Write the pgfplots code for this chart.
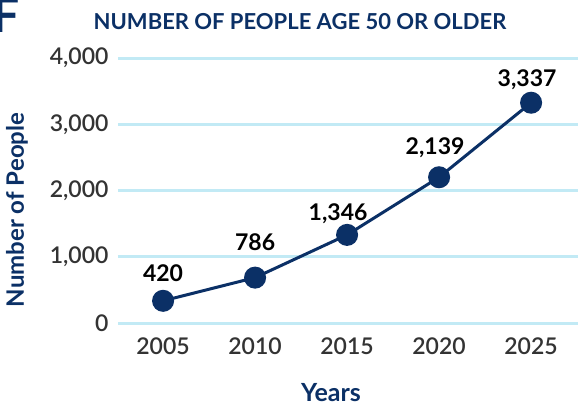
\documentclass[border=0pt]{standalone}
\usepackage{pgfplots}
\pgfplotsset{compat=1.18}
\usepackage{fontspec}
\setmainfont{Lato}
\newfontfamily\latomed{Lato Semibold}
\definecolor{navy}{HTML}{0B3066}
\definecolor{gridblue}{HTML}{C2EAF5}
\definecolor{tickgray}{HTML}{333333}

\begin{document}
\begin{tikzpicture}[x=1pt,y=1pt]
\path[use as bounding box] (-118,-82) rectangle (460,323);
\begin{axis}[
    at={(0,0)}, anchor=south west,
    scale only axis,
    width=460pt, height=265pt,
    xmin=2002.55, xmax=2027.55,
    ymin=0, ymax=4000,
    xtick={2005,2010,2015,2020,2025},
    xticklabels={2005,2010,2015,2020,2025},
    ytick={0,1000,2000,3000,4000},
    ymajorgrids,
    major grid style={color=gridblue, line width=3pt},
    axis line style={draw=none},
    major tick length=0pt,
    /pgf/number format/1000 sep={,},
    /pgf/number format/assume math mode=true,
    tick label style={font=\latomed\fontsize{23}{26}\selectfont, text=tickgray},
    xticklabel style={yshift=-11pt},
    yticklabel style={xshift=-6pt},
    clip=false,
]
% label offsets (dx, dy) follow the reference's placement
\addplot[color=navy, line width=3pt, mark=*, mark size=9.5pt,
    mark options={fill=navy, draw=navy},
    point meta=explicit symbolic,
    visualization depends on={value \thisrow{dx} \as \dx},
    visualization depends on={value \thisrow{dy} \as \dy},
    nodes near coords={\pgfplotspointmeta},
    every node near coord/.append style={font=\bfseries\fontsize{23}{26}\selectfont,
        text=black, anchor=south, xshift=\dx pt, yshift=\dy pt}]
  table[meta=label] {
    x     y     label  dx  dy
    2005  335   420    0   14
    2010  685   786    0   22
    2015  1330  1,346  -9  6
    2020  2200  2,139  -4  15
    2025  3325  3,337  -4  8
  };
\end{axis}
\node[font=\bfseries\fontsize{22}{26}\selectfont, text=navy] at (182,301) {NUMBER OF PEOPLE AGE 50 OR OLDER};
\node[font=\bfseries\fontsize{48}{56}\selectfont, text=navy, anchor=base west, inner sep=0pt] at (-126,290) {F};
\node[font=\bfseries\fontsize{24}{28}\selectfont, text=navy, rotate=90] at (-101,113) {Number of People};
\node[font=\bfseries\fontsize{25}{28}\selectfont, text=navy] at (213,-70) {Years};
\end{tikzpicture}
\end{document}
